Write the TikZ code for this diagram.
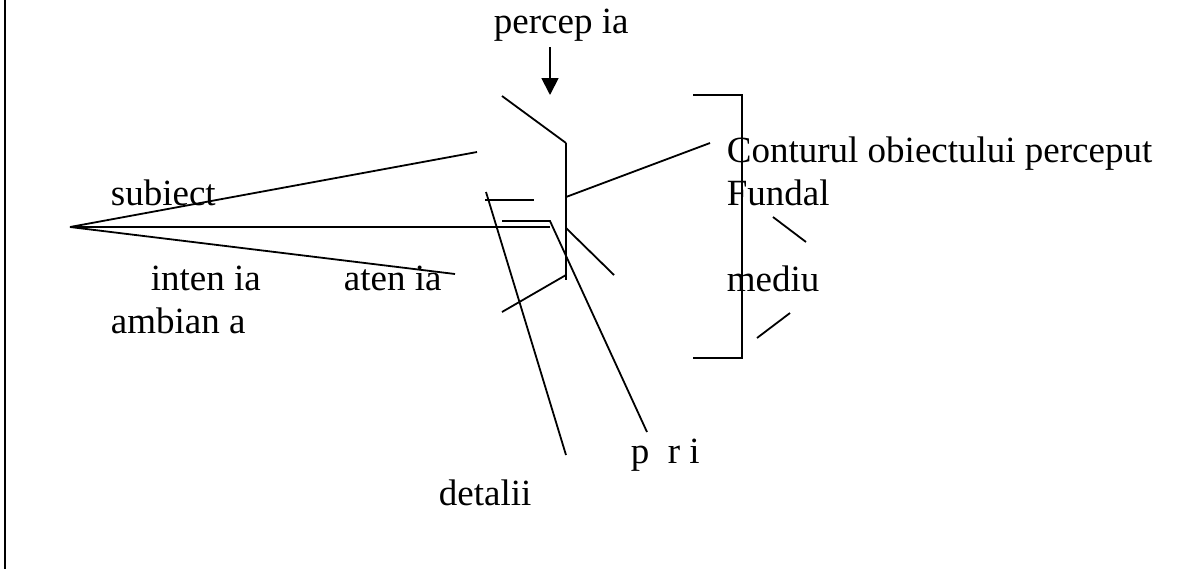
\documentclass[tikz,border=0pt]{standalone}
\usepackage{fontspec}
\setmainfont{Liberation Serif}
\usetikzlibrary{arrows.meta}

\begin{document}
\begin{tikzpicture}[x=0.5pt,y=-0.5pt, line width=0.9pt, >={Triangle[length=8.5pt,width=8.5pt]},
  lbl/.style={anchor=base west,inner sep=0pt,font=\fontsize{18.5pt}{22pt}\selectfont}]
\useasboundingbox (0,0) rectangle (1185,569);
% frame on the left
\draw (5,0) -- (5,569);
% the eye and its three rays
\coordinate (eye) at (70,227);
\coordinate (rayup) at (477,152);
\coordinate (raymid) at (550,227);
\coordinate (raylow) at (455,274);
\draw (eye) -- (rayup); \draw (eye) -- (raymid); \draw (eye) -- (raylow);
% screen of the object
\coordinate (bartop) at (566,143);
\coordinate (barbot) at (566,280);
\draw (bartop) -- (barbot);
\coordinate (bartopin) at (502,96);
\draw (bartopin) -- (bartop);
\coordinate (barout) at (566,197); \coordinate (contour) at (710,143);
\draw (barout) -- (contour);
\coordinate (barmid) at (566,228); \coordinate (barmidout) at (614,275);
\draw (barmid) -- (barmidout);
\draw (barbot |- 0,275) coordinate (barlow) -- (502,312) coordinate (barlowin);
% details and parts
\coordinate (detstub) at (485,200); \coordinate (detstubend) at (534,200);
\draw (detstub) -- (detstubend);
\coordinate (dettop) at (486,192); \coordinate (detbot) at (566,455);
\draw (dettop) -- (detbot);
\coordinate (partin) at (502,221); \coordinate (partknee) at (550,221); \coordinate (partend) at (647,432);
\draw (partin) -- (partknee) -- (partend);
% perception arrow
\coordinate (arrtail) at (550,47); \coordinate (arrtip) at (550,95);
\draw[->] (arrtail) -- (arrtip);
% bracket round the background
\coordinate (brtop) at (693,95); \coordinate (brbot) at (693,358);
\draw (brtop) -- (742,95) -- (742,358) -- (brbot);
\coordinate (fundin) at (773,217); \coordinate (fundout) at (806,242);
\draw (fundin) -- (fundout);
\coordinate (medin) at (757,338); \coordinate (medout) at (790,313);
\draw (medin) -- (medout);
% labels
\node[lbl] (percep) at (493,33) {percep ia};
\node[lbl] (subiect) at (110,205) {subiect};
\node[lbl] (intentia) at (150,290) {inten ia};
\node[lbl] (atentia) at (343,290) {aten ia};
\node[lbl] (ambianta) at (110,333) {ambian a};
\node[lbl] (contur) at (726,162) {Conturul obiectului perceput};
\node[lbl] (fundal) at (726,205) {Fundal};
\node[lbl] (mediu) at (726,291) {mediu};
\node[lbl] (parti) at (630,463) {p\ \ r i};
\node[lbl] (detalii) at (438,505) {detalii};
\end{tikzpicture}
\end{document}
